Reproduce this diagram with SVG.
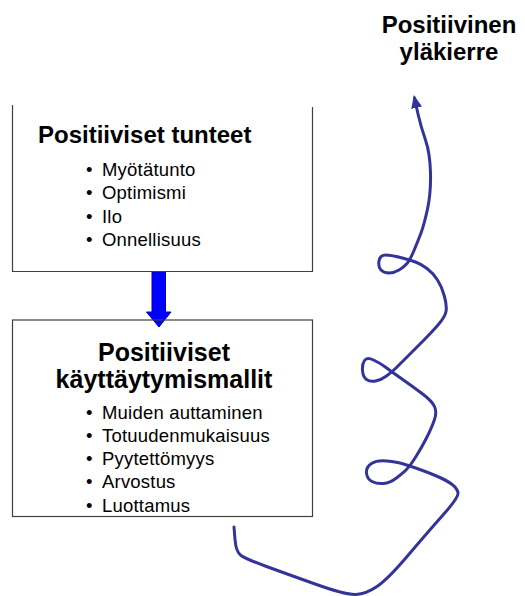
<svg xmlns="http://www.w3.org/2000/svg" width="525" height="596" viewBox="0 0 525 596">
<style>
.box{fill:none;stroke:#404040;stroke-width:1.2}
.title{font-family:"Liberation Sans",Arial,sans-serif;font-weight:bold;fill:#000}
.item{font-family:"Liberation Sans",Arial,sans-serif;font-size:18.5px;letter-spacing:0.2px;fill:#000}
.spiral{fill:none;stroke:#333399;stroke-width:3;stroke-linecap:round;stroke-linejoin:round}
.down{fill:#0000ff;stroke:#0000b0;stroke-width:1}
</style>
<defs>
<marker id="ah" markerUnits="userSpaceOnUse" markerWidth="13" markerHeight="11" viewBox="0 0 13 11" refX="10" refY="5.5" orient="auto">
<path d="M0,0 L13,5.5 L0,11 z" fill="#333399"/>
</marker>
</defs>
<rect width="525" height="596" fill="#fff"/>
<g id="connectors">
<path class="down" d="M152,272 H165.5 V312 H171 L159,327 L146.5,312 H152 Z"/>
<path class="spiral" marker-end="url(#ah)" d="M234,527 L235,539.5 Q236,552 241,555.5 Q246,559 266.5,566.5 Q287,574 316.5,584.5 Q346,595 356,594.5 Q366,594 377,586.5 Q388,579 407.5,556 Q427,533 443,515 Q459,497 458,492.5 Q457,488 451.5,484 Q446,480 436.5,476 Q427,472 418.5,469 Q410,466 403.5,464 Q397,462 387,461 Q377,460 371.5,463.5 Q366,467 366.5,473 Q367,479 372,481.5 Q377,484 383.5,483.5 Q390,483 396.5,478 Q403,473 406.5,469.5 Q410,466 416,456.5 Q422,447 427,437 Q432,427 434.5,419.5 Q437,412 434.5,406.5 Q432,401 422,393.5 Q412,386 402,379 Q392,372 386,367.5 Q380,363 373.5,360 Q367,357 364.5,360.5 Q362,364 362.5,370.5 Q363,377 366.5,379.5 Q370,382 375.5,381 Q381,380 386.5,376 Q392,372 396.5,367.5 Q401,363 409,355 Q417,347 424,340 Q431,333 438,325 Q445,317 446,311.5 Q447,306 444.5,296.5 Q442,287 437.5,280 Q433,273 427,268.5 Q421,264 415.5,262 Q410,260 400.5,257.5 Q391,255 385.5,255 Q380,255 379,261 Q378,267 381,270 Q384,273 389,273 Q394,273 399,270 Q404,267 407,263.5 Q410,260 414,250.5 Q418,241 421,233 Q424,225 427.5,209 Q431,193 430.5,173 Q430,153 425.5,140 Q421,127 418,114 L414.5,98"/>
</g>
<g id="node-feelings">
<path class="box" d="M12.5,105 V271.5 H312.5 V107"/>
<text class="title" x="38" y="143" font-size="24">Positiiviset tunteet</text>
<text class="item"><tspan x="86" y="176">•</tspan><tspan x="102" y="176">Myötätunto</tspan></text>
<text class="item"><tspan x="86" y="199.3">•</tspan><tspan x="102" y="199.3">Optimismi</tspan></text>
<text class="item"><tspan x="86" y="222.6">•</tspan><tspan x="102" y="222.6">Ilo</tspan></text>
<text class="item"><tspan x="86" y="246">•</tspan><tspan x="102" y="246">Onnellisuus</tspan></text>
</g>
<g id="node-behaviour">
<rect class="box" x="12.5" y="320" width="300" height="196.5"/>
<text class="title" x="164" y="360.5" font-size="25" text-anchor="middle">Positiiviset</text>
<text class="title" x="164" y="387.5" font-size="25" text-anchor="middle">käyttäytymismallit</text>
<text class="item"><tspan x="86" y="418.5">•</tspan><tspan x="102" y="418.5">Muiden auttaminen</tspan></text>
<text class="item"><tspan x="86" y="441.8">•</tspan><tspan x="102" y="441.8">Totuudenmukaisuus</tspan></text>
<text class="item"><tspan x="86" y="465.1">•</tspan><tspan x="102" y="465.1">Pyytettömyys</tspan></text>
<text class="item"><tspan x="86" y="488.4">•</tspan><tspan x="102" y="488.4">Arvostus</tspan></text>
<text class="item"><tspan x="86" y="511.7">•</tspan><tspan x="102" y="511.7">Luottamus</tspan></text>
</g>
<g id="node-spiral-label">
<text class="title" x="449" y="33" font-size="24" text-anchor="middle">Positiivinen</text>
<text class="title" x="449" y="59.5" font-size="24" text-anchor="middle">yläkierre</text>
</g>
</svg>
